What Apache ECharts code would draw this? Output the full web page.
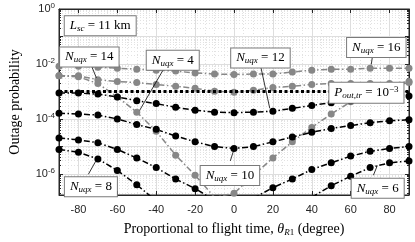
<!DOCTYPE html>
<html><head><meta charset="utf-8">
<script src="https://cdn.jsdelivr.net/npm/echarts@6/dist/echarts.min.js"></script>
<style>html,body{margin:0;padding:0;background:#fff}#c{width:415px;height:242px}</style>
</head><body><div id="c"></div>
<script>
// ---------------- data ----------------
const thetas = [-90,-80,-70,-60,-50,-40,-30,-20,-10,0,10,20,30,40,50,60,70,80,90];
const outN16 = [8.2e-3,8.2e-3,7.6e-3,7.0e-3,6.45e-3,5.95e-3,5.5e-3,4.7e-3,4.3e-3,4.15e-3,4.3e-3,4.3e-3,5.05e-3,5.95e-3,6.45e-3,6.45e-3,7.0e-3,7.0e-3,7.0e-3];
const outN14 = [3.7e-3,3.7e-3,2.67e-3,2.28e-3,2.1e-3,1.8e-3,1.53e-3,1.3e-3,1.02e-3,9.4e-4,1.1e-3,1.4e-3,1.53e-3,1.8e-3,1.94e-3,1.94e-3,1.94e-3,1.94e-3,2.28e-3];
const outN4  = [3.7e-3,3.4e-3,1.94e-3,6.3e-4,1.76e-4,3.55e-5,4.8e-6,8.9e-7,1.4e-7,1.95e-7,8.9e-7,3.8e-6,1.47e-5,4.9e-5,1.5e-4,4.2e-4,9.4e-4,1.53e-3,2.1e-3];
const outN12 = [8.7e-4,8.7e-4,8.0e-4,6.3e-4,4.6e-4,3.6e-4,2.63e-4,2.06e-4,1.76e-4,1.69e-4,1.76e-4,1.9e-4,2.42e-4,3.08e-4,3.9e-4,4.6e-4,5.4e-4,5.8e-4,6.85e-4];
const outN10 = [1.62e-4,1.5e-4,1.38e-4,1.0e-4,6.2e-5,4.16e-5,2.38e-5,1.47e-5,9.8e-6,8.4e-6,9.8e-6,1.47e-5,2.19e-5,3.27e-5,4.5e-5,5.7e-5,7.3e-5,8.55e-5,9.3e-5];
const outN8  = [7.74e-6,6.1e-6,3.48e-6,1.33e-6,4.0e-7,1.03e-7,null,null,null,null,1.3e-7,3.15e-7,6.5e-7,1.44e-6,2.52e-6,4.42e-6,6.6e-6,8.4e-6,9.84e-6];
const outN6  = [2.02e-5,1.72e-5,1.36e-5,7.74e-6,3.77e-6,1.69e-6,6.5e-7,2.9e-7,1.1e-7,null,null,null,null,1.4e-7,3.7e-7,8.2e-7,1.69e-6,2.52e-6,2.96e-6];
const thresholdX = [-90, 90];
const thresholdY = [1e-3, 1e-3];
const xTickLabels = [-80,-60,-40,-20,0,20,40,60,80];
const yTickExponents = [0,-2,-4,-6];

// ---------------- styles ----------------
const SERIF = '"Liberation Serif", "DejaVu Serif", serif';
const SANS = '"Liberation Sans", Arial, sans-serif';
const GREY = '#878787';
const BLACK = '#000000';
const DASHDOT = [6,2.5,1.5,2.5];

const mathRich = {
  i:  {fontFamily: SERIF, fontStyle: 'italic', fontSize: 13, color: '#000'},
  t:  {fontFamily: SERIF, fontSize: 13, color: '#000'},
  si: {fontFamily: SERIF, fontStyle: 'italic', fontSize: 9, color: '#000', padding: [6,0,0,0]},
  sup:{fontFamily: SERIF, fontSize: 9, color: '#000', padding: [0,0,7,0]}
};

function mkSeries(name, vals, color) {
  return {
    name, type: 'line', xAxisIndex: 0, yAxisIndex: 0,
    data: thetas.map((t, i) => [t, vals[i]]),
    symbol: 'circle', symbolSize: 7,
    itemStyle: {color: color},
    lineStyle: {color: color, width: 1.5, type: DASHDOT},
    clip: true, connectNulls: false, z: 2
  };
}

const boxes = [
  {name: '{i|L}{si|sc}{t| = 11 km}', coord: [-68.8, 0.34]},
  {name: '{i|N}{si|uqx}{t| = 14}', coord: [-74.4, 0.0251]},
  {name: '{i|N}{si|uqx}{t| = 4}', coord: [-31.5, 0.019]},
  {name: '{i|N}{si|uqx}{t| = 12}', coord: [13.6, 0.0232]},
  {name: '{i|N}{si|uqx}{t| = 16}', coord: [73.2, 0.056]},
  {name: '{i|P}{si|out,tr}{t| = 10}{sup|−3}', coord: [68.1, 1.25e-3]},
  {name: '{i|N}{si|uqx}{t| = 10}', coord: [-2.1, 1.23e-6]},
  {name: '{i|N}{si|uqx}{t| = 8}', coord: [-73.6, 4.7e-7]},
  {name: '{i|N}{si|uqx}{t| = 6}', coord: [73.9, 4.17e-7]}
];
const arrows = [
  [[-74.4, 0.0133], [-70.8, 3.14e-3]],
  [[-34.8, 9.6e-3], [-48.5, 2.06e-4]],
  [[13.3, 0.0113], [18.4, 2.42e-4]],
  [[71.6, 0.0295], [70.6, 9.6e-3]],
  [[-1.9, 2.96e-6], [-0.35, 6.6e-6]],
  [[-74.9, 9.66e-7], [-71.3, 2.73e-6]],
  [[71.7, 8.9e-7], [73.7, 2.0e-6]]
];

const chart = echarts.init(document.getElementById('c'), null, {renderer: 'canvas'});

function yLabel(v) {
  const e = Math.log10(v);
  const r = Math.round(e);
  if (Math.abs(e - r) > 0.01) return '';
  if (yTickExponents.indexOf(r) < 0) return '';
  return '{b|10}{s|' + r + '}';
}
function xLabel(v) {
  return xTickLabels.indexOf(Math.round(v)) >= 0 && Math.abs(v - Math.round(v)) < 1e-6 ? String(Math.round(v)) : '';
}

const axisLineStyle = {color: '#262626', width: 1};

chart.setOption({
  animation: false,
  backgroundColor: '#ffffff',
  grid: {left: 54, right: 6, top: 9, bottom: 38, show: true, borderColor: '#262626', borderWidth: 1, backgroundColor: '#fff', containLabel: false},
  xAxis: [{
    type: 'value', min: -90, max: 90, splitNumber: 9, position: 'bottom',
    axisLine: {show: true, onZero: false, lineStyle: axisLineStyle},
    axisTick: {show: true, inside: true, length: 4, lineStyle: axisLineStyle},
    axisLabel: {formatter: xLabel, fontFamily: SANS, fontSize: 11, color: '#262626', margin: 9, showMinLabel: true, showMaxLabel: true},
    splitLine: {show: true, lineStyle: {color: '#dedede', width: 1}},
    minorSplitLine: {show: true, lineStyle: {color: '#e2e2e2', width: 1, type: [1,2]}},
    minorTick: {show: false, splitNumber: 4},
    name: 'Proportional to flight time, {i|θ}{s|R}{u|1} (degree)',
    nameLocation: 'middle', nameGap: 27,
    nameTextStyle: {fontFamily: SERIF, fontSize: 14, color: '#000',
      rich: {
        i: {fontFamily: SERIF, fontStyle: 'italic', fontSize: 14, color: '#000'},
        s: {fontFamily: SERIF, fontStyle: 'italic', fontSize: 9, color: '#000', padding: [6,0,0,0]},
        u: {fontFamily: SERIF, fontSize: 9, color: '#000', padding: [6,0,0,0]}
      }}
  }, {
    type: 'value', min: -90, max: 90, splitNumber: 9, position: 'top',
    axisLine: {show: true, onZero: false, lineStyle: axisLineStyle},
    axisTick: {show: true, inside: true, length: 4, lineStyle: axisLineStyle},
    axisLabel: {show: false}, splitLine: {show: false}
  }],
  yAxis: [{
    type: 'log', logBase: 10, min: 1.7e-7, max: 1,
    axisLine: {show: true, onZero: false, lineStyle: axisLineStyle},
    axisTick: {show: true, inside: true, length: 4, lineStyle: axisLineStyle},
    minorTick: {show: true, splitNumber: 9, length: 2, lineStyle: axisLineStyle},
    axisLabel: {formatter: yLabel, margin: 4, color: '#262626',
      rich: {
        b: {fontFamily: SANS, fontSize: 11, color: '#262626'},
        s: {fontFamily: SANS, fontSize: 8, color: '#262626', padding: [0,0,7,0]}
      }},
    splitLine: {show: true, lineStyle: {color: '#dedede', width: 1}},
    minorSplitLine: {show: true, lineStyle: {color: '#e2e2e2', width: 1, type: [1,2]}},
    name: 'Outage probability', nameLocation: 'middle', nameGap: 37,
    nameTextStyle: {fontFamily: SERIF, fontSize: 14, color: '#000'}
  }, {
    type: 'log', logBase: 10, min: 1.7e-7, max: 1, position: 'right',
    axisLine: {show: true, onZero: false, lineStyle: axisLineStyle},
    axisTick: {show: true, inside: true, length: 4, lineStyle: axisLineStyle},
    minorTick: {show: true, splitNumber: 9, length: 2, lineStyle: axisLineStyle},
    axisLabel: {show: false}, splitLine: {show: false}
  }],
  series: [
    mkSeries('N16', outN16, GREY),
    mkSeries('N14', outN14, GREY),
    mkSeries('N4', outN4, GREY),
    mkSeries('N12', outN12, BLACK),
    mkSeries('N10', outN10, BLACK),
    mkSeries('N8', outN8, BLACK),
    mkSeries('N6', outN6, BLACK),
    {
      name: 'threshold', type: 'line', xAxisIndex: 0, yAxisIndex: 0,
      data: thresholdX.map((x, i) => [x, thresholdY[i]]),
      symbol: 'none', lineStyle: {color: '#000', width: 3, type: [3,2.5]}, z: 3,
      markLine: {
        silent: true, symbol: ['none', 'arrow'], symbolSize: [0, 7], z: 6,
        label: {show: false},
        lineStyle: {color: '#000', width: 0.8, type: 'solid'},
        data: arrows.map(a => [{coord: a[0]}, {coord: a[1]}])
      },
      markPoint: {
        silent: true, symbol: 'circle', symbolSize: 0, z: 7,
        label: {
          show: true, position: 'inside', offset: [0, 4], formatter: p => p.name,
          backgroundColor: '#ffffff', borderColor: '#7a7a7a', borderWidth: 1,
          padding: [2,5,2,5], rich: mathRich
        },
        data: boxes.map(b => ({name: b.name, coord: b.coord}))
      }
    }
  ]
});
</script></body></html>
